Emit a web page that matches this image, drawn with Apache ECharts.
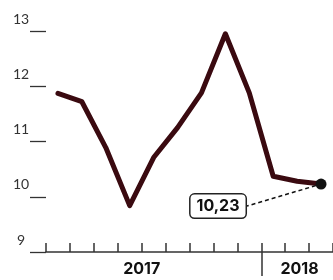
<!DOCTYPE html>
<html>
<head>
<meta charset="UTF-8">
<title>chart</title>
<script src="https://cdn.jsdelivr.net/npm/echarts@6/dist/echarts.min.js"></script>
<style>
  html, body { margin: 0; padding: 0; background: #fff; }
  #main { width: 333px; height: 280px; }
</style>
</head>
<body>
<div id="main"></div>
<script type="text/javascript">
    // months, apr 2017 - mar 2018
    var months = ['2017-04','2017-05','2017-06','2017-07','2017-08','2017-09','2017-10','2017-11','2017-12','2018-01','2018-02','2018-03'];
    var values = [11.87, 11.72, 10.89, 9.84, 10.71, 11.25, 11.88, 12.95, 11.88, 10.37, 10.28, 10.23];
    var yearLabels = ['2017', '2018'];
    var yearLabelPos = [4, 10.6];
    var yearSplit = [9];

    var myChart = echarts.init(document.getElementById('main'));

    var seriesData = values.map(function (v, i) {
        if (i === values.length - 1) {
            return {
                value: v,
                symbol: 'circle',
                symbolSize: 11,
                itemStyle: { color: '#111' },
                label: {
                    show: true,
                    position: 'inside',
                    formatter: function (p) { return String(p.value).replace('.', ','); },
                    fontFamily: 'Inter, sans-serif',
                    fontWeight: 'bold',
                    fontSize: 16,
                    color: '#111',
                    backgroundColor: '#fff',
                    borderColor: '#222',
                    borderWidth: 1.5,
                    borderRadius: 4,
                    padding: [4, 6, 3, 6]
                },
                labelLine: {
                    show: true,
                    lineStyle: { color: '#111', width: 1.5, type: [4, 3] }
                }
            };
        }
        return { value: v, symbol: 'none' };
    });

    var option = {
        animation: false,
        grid: { left: 46, top: 31, bottom: 28, right: -3 },
        xAxis: [{
            type: 'category',
            data: months,
            boundaryGap: true,
            axisLine: { lineStyle: { color: '#333', width: 1.5 } },
            axisTick: { show: true, interval: 0, inside: true, length: 9, lineStyle: { color: '#333', width: 1.5 } },
            axisLabel: { show: true, interval: 0, color: 'rgba(0,0,0,0)', fontSize: 1 },
            splitLine: { show: false }
        }, {
            type: 'value',
            position: 'bottom',
            min: 0,
            max: 12,
            axisLine: { show: false },
            axisTick: {
                show: true,
                customValues: yearSplit,
                length: 24,
                lineStyle: { color: '#333', width: 1.5 }
            },
            axisLabel: {
                customValues: yearLabelPos,
                formatter: function (v) { return v < yearSplit[0] ? yearLabels[0] : yearLabels[1]; },
                margin: 9,
                fontFamily: 'Inter, sans-serif',
                fontWeight: 'bold',
                fontSize: 16,
                color: '#111'
            },
            splitLine: { show: false }
        }],
        yAxis: {
            type: 'value',
            min: 9,
            max: 13,
            interval: 1,
            offset: 17,
            axisLine: { show: false },
            axisTick: { show: true, length: 16, lineStyle: { color: '#333', width: 1.3 } },
            axisLabel: {
                margin: 8,
                align: 'center',
                verticalAlign: 'bottom',
                padding: [0, 0, 5, 0],
                fontFamily: 'Lato, sans-serif',
                fontSize: 14,
                color: '#333'
            },
            splitLine: { show: false }
        },
        series: [{
            type: 'line',
            data: seriesData,
            lineStyle: { color: '#3a0a10', width: 5, cap: 'round', join: 'round' },
            labelLayout: { dx: -103, dy: 22 },
            z: 3
        }]
    };

    myChart.setOption(option);
</script>
</body>
</html>
